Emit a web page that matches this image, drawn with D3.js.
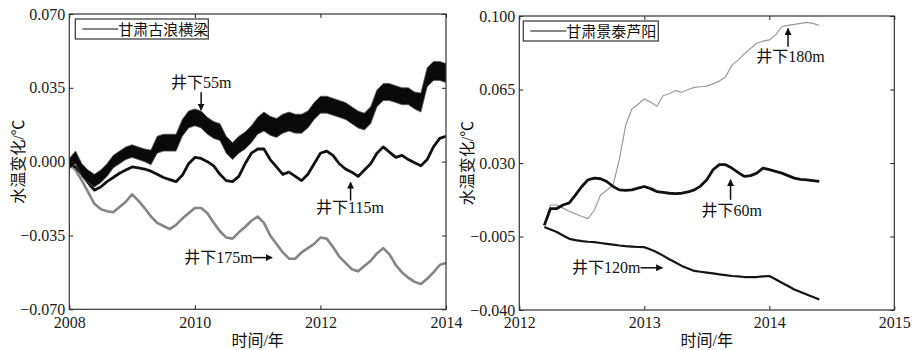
<!DOCTYPE html>
<html><head><meta charset="utf-8">
<script src="https://cdn.jsdelivr.net/npm/d3@7/dist/d3.min.js"></script>
<style>body{margin:0;background:#fff}svg{display:block}</style>
</head><body><svg id="c" width="913" height="350"></svg>
<script>
// ---------- Left panel data (甘肃古浪横梁) ----------
const leftTime = [2008.0,2008.1,2008.2,2008.3,2008.4,2008.5,2008.6,2008.7,2008.8,2008.9,
  2009.0,2009.1,2009.2,2009.3,2009.4,2009.5,2009.6,2009.7,2009.8,2009.9,
  2010.0,2010.1,2010.2,2010.3,2010.4,2010.5,2010.6,2010.7,2010.8,2010.9,
  2011.0,2011.1,2011.2,2011.3,2011.4,2011.5,2011.6,2011.7,2011.8,2011.9,
  2012.0,2012.1,2012.2,2012.3,2012.4,2012.5,2012.6,2012.7,2012.8,2012.9,
  2013.0,2013.1,2013.2,2013.3,2013.4,2013.5,2013.6,2013.7,2013.8,2013.9,2014.0];
const left55 = [-0.001,0.002,-0.004,-0.007,-0.009,-0.007,-0.004,0.000,0.002,0.004,
  0.005,0.004,0.003,0.002,0.008,0.009,0.009,0.009,0.016,0.020,
  0.021,0.020,0.017,0.015,0.014,0.008,0.005,0.008,0.010,0.013,
  0.017,0.019,0.017,0.016,0.018,0.019,0.018,0.018,0.020,0.024,
  0.027,0.027,0.026,0.025,0.024,0.022,0.020,0.019,0.022,0.030,
  0.033,0.033,0.032,0.031,0.031,0.029,0.028,0.040,0.043,0.043,0.042];
const left55Spread = [0.0025,0.003,0.003,0.003,0.003,0.003,0.003,0.003,0.003,0.003,
  0.003,0.003,0.003,0.0035,0.004,0.004,0.004,0.004,0.004,0.004,
  0.004,0.004,0.004,0.004,0.004,0.004,0.004,0.004,0.004,0.004,
  0.004,0.0045,0.0045,0.0045,0.0045,0.0045,0.0045,0.0045,0.004,0.004,
  0.004,0.004,0.004,0.004,0.004,0.004,0.004,0.004,0.004,0.004,
  0.004,0.004,0.004,0.004,0.004,0.004,0.0045,0.0045,0.0045,0.0045,0.0045];
const left115 = [-0.001,-0.0025,-0.006,-0.010,-0.0135,-0.012,-0.0095,-0.0075,-0.0055,-0.004,
  -0.0025,-0.003,-0.0035,-0.0045,-0.006,-0.0075,-0.0085,-0.0095,-0.0065,-0.001,
  0.002,0.0015,0.000,-0.002,-0.006,-0.009,-0.0095,-0.007,-0.001,0.004,
  0.006,0.006,0.001,-0.0025,-0.006,-0.005,-0.007,-0.009,-0.006,-0.001,
  0.004,0.005,0.003,-0.001,-0.0035,-0.005,-0.007,-0.004,-0.001,0.004,
  0.007,0.0045,0.002,0.003,0.001,-0.0005,-0.002,0.001,0.007,0.011,0.012];
const left175 = [-0.001,-0.004,-0.009,-0.0145,-0.020,-0.0225,-0.0235,-0.024,-0.0215,-0.019,
  -0.0155,-0.0185,-0.022,-0.026,-0.029,-0.0305,-0.032,-0.030,-0.027,-0.0245,
  -0.022,-0.022,-0.0245,-0.029,-0.033,-0.036,-0.0365,-0.0335,-0.031,-0.028,
  -0.026,-0.029,-0.035,-0.039,-0.043,-0.046,-0.046,-0.043,-0.041,-0.039,
  -0.036,-0.0365,-0.0405,-0.045,-0.048,-0.051,-0.052,-0.0495,-0.047,-0.0435,
  -0.041,-0.044,-0.049,-0.0525,-0.055,-0.057,-0.058,-0.0555,-0.0525,-0.049,-0.048];
const leftXTicks = [2008, 2010, 2012, 2014];
const leftYTicks = [0.070, 0.035, 0.000, -0.035, -0.070];
const leftYTickLabels = ["0.070", "0.035", "0.000", "\u22120.035", "\u22120.070"];
const leftLegend = "甘肃古浪横梁";
const leftNotes = [
  {text: "井下55m", tx: 2010.1, ty: 0.0377, anchor: "middle", ax1: 2010.1, ay1: 0.0329, ax2: 2010.1, ay2: 0.0245},
  {text: "井下115m", tx: 2012.47, ty: -0.0217, anchor: "middle", ax1: 2012.48, ay1: -0.0184, ax2: 2012.48, ay2: -0.0098},
  {text: "井下175m", tx: 2010.92, ty: -0.0455, anchor: "end", ax1: 2010.92, ay1: -0.0455, ax2: 2011.23, ay2: -0.0455}
];

// ---------- Right panel data (甘肃景泰芦阳) ----------
const rightTime = [2012.20,2012.25,2012.30,2012.35,2012.40,2012.45,2012.50,2012.55,2012.60,2012.65,
  2012.70,2012.75,2012.80,2012.85,2012.90,2012.95,2013.00,2013.05,2013.10,2013.15,
  2013.20,2013.25,2013.30,2013.35,2013.40,2013.45,2013.50,2013.55,2013.60,2013.65,
  2013.70,2013.75,2013.80,2013.85,2013.90,2013.95,2014.00,2014.05,2014.10,2014.15,
  2014.20,2014.25,2014.30,2014.35,2014.40];
const right180 = [0.001,0.010,0.010,0.0085,0.007,0.0058,0.0045,0.0035,0.0075,0.0148,
  0.017,0.0195,0.0316,0.0477,0.0557,0.058,0.0605,0.059,0.057,0.062,
  0.063,0.0645,0.0637,0.065,0.066,0.0663,0.0666,0.0677,0.069,0.071,
  0.0765,0.079,0.082,0.0845,0.087,0.088,0.0886,0.091,0.095,0.0955,
  0.096,0.0965,0.097,0.0965,0.0955];
const right60 = [0.0003,0.0083,0.0083,0.010,0.011,0.0148,0.0188,0.022,0.0228,0.0225,
  0.0212,0.0188,0.0172,0.017,0.0172,0.018,0.0188,0.0178,0.0164,0.016,
  0.0156,0.0154,0.0156,0.0162,0.0172,0.019,0.022,0.0268,0.0292,0.0292,
  0.0276,0.0255,0.0236,0.024,0.0252,0.0276,0.0268,0.026,0.0252,0.024,
  0.0228,0.0222,0.022,0.0216,0.0212];
const right120 = [-0.0005,-0.0017,-0.0029,-0.0045,-0.0061,-0.0067,-0.0072,-0.0075,-0.0077,-0.0081,
  -0.0085,-0.0089,-0.0093,-0.0096,-0.0098,-0.010,-0.0101,-0.0112,-0.0125,-0.0141,
  -0.0158,-0.0174,-0.019,-0.0202,-0.0214,-0.0218,-0.0222,-0.0226,-0.023,-0.0234,
  -0.0238,-0.024,-0.0243,-0.0243,-0.0243,-0.024,-0.0238,-0.0254,-0.027,-0.0286,
  -0.0302,-0.0314,-0.0326,-0.0338,-0.035];
const rightXTicks = [2012, 2013, 2014, 2015];
const rightYTicks = [0.100, 0.065, 0.030, -0.005, -0.040];
const rightYTickLabels = ["0.100", "0.065", "0.030", "\u22120.005", "\u22120.040"];
const rightLegend = "甘肃景泰芦阳";
const rightNotes = [
  {text: "井下180m", tx: 2014.17, ty: 0.0806, anchor: "middle", ax1: 2014.15, ay1: 0.0854, ax2: 2014.15, ay2: 0.094},
  {text: "井下60m", tx: 2013.70, ty: 0.0073, anchor: "middle", ax1: 2013.69, ay1: 0.0125, ax2: 2013.69, ay2: 0.022},
  {text: "井下120m", tx: 2012.97, ty: -0.0199, anchor: "end", ax1: 2012.97, ay1: -0.0199, ax2: 2013.145, ay2: -0.0199}
];

const yTitle = "水温变化/℃";
const xTitle = "时间/年";

const svg = d3.select("#c");
const FONT = "'Liberation Serif','Times New Roman','Noto Sans CJK SC',serif";
const defs = svg.append("defs");
defs.append("marker").attr("id","ah").attr("viewBox","0 0 10 10").attr("refX",9).attr("refY",5)
  .attr("markerWidth",7).attr("markerHeight",7).attr("markerUnits","userSpaceOnUse").attr("orient","auto")
  .append("path").attr("d","M0,0L10,5L0,10z").attr("fill","#111");

function panel(cfg) {
  const {x0, x1, y0, y1} = cfg;
  const x = d3.scaleLinear().domain(cfg.xDomain).range([x0, x1]);
  const y = d3.scaleLinear().domain(cfg.yDomain).range([y1, y0]);
  const g = svg.append("g");
  const tickStyle = sel => {
    sel.select(".domain").remove();
    sel.selectAll(".tick line").attr("stroke", "#222");
    sel.selectAll(".tick text").attr("font-family", FONT).attr("font-size", 16).attr("fill", "#1a1a1a");
  };
  g.append("g").attr("transform", `translate(0,${y1})`)
    .call(d3.axisBottom(x).tickValues(cfg.xTicks).tickFormat(d3.format("d")).tickSizeInner(-4).tickSizeOuter(0).tickPadding(7))
    .call(tickStyle);
  g.append("g").attr("transform", `translate(0,${y0})`)
    .call(d3.axisTop(x).tickValues(cfg.xTicks).tickFormat("").tickSizeInner(-4).tickSizeOuter(0))
    .call(tickStyle);
  g.append("g").attr("transform", `translate(${x0},0)`)
    .call(d3.axisLeft(y).tickValues(cfg.yTicks).tickFormat((d, i) => cfg.yLabels[i]).tickSizeInner(-4).tickSizeOuter(0).tickPadding(4))
    .call(tickStyle);
  g.append("g").attr("transform", `translate(${x1},0)`)
    .call(d3.axisRight(y).tickValues(cfg.yTicks).tickFormat("").tickSizeInner(-4).tickSizeOuter(0))
    .call(tickStyle);

  const clipId = "clip" + cfg.id;
  defs.append("clipPath").attr("id", clipId).append("rect")
    .attr("x", x0).attr("y", y0).attr("width", x1 - x0).attr("height", y1 - y0);
  const plot = g.append("g").attr("clip-path", `url(#${clipId})`);

  cfg.series.forEach(s => {
    const pts = cfg.time.map((t, i) => ({t, v: s.values[i], w: s.spread ? s.spread[i] : 0}));
    if (s.spread) {
      plot.append("path").datum(pts)
        .attr("d", d3.area().x(d => x(d.t)).y0(d => y(d.v - d.w)).y1(d => y(d.v + d.w)))
        .attr("fill", s.color).attr("stroke", "#555").attr("stroke-width", 0.8);
    }
    plot.append("path").datum(pts)
      .attr("d", d3.line().x(d => x(d.t)).y(d => y(d.v)))
      .attr("fill", "none").attr("stroke", s.color).attr("stroke-width", s.width)
      .attr("stroke-linejoin", "round");
  });

  // frame
  g.append("rect").attr("x", x0).attr("y", y0).attr("width", x1 - x0).attr("height", y1 - y0)
    .attr("fill", "none").attr("stroke", "#333").attr("stroke-width", 1.2);

  // legend
  const lg = g.append("g").attr("transform", `translate(${x0 + cfg.legDx},${y0 + cfg.legDy})`);
  lg.append("rect").attr("x", 0).attr("y", 0).attr("width", cfg.legW).attr("height", 20)
    .attr("fill", "#fff").attr("stroke", "#333").attr("stroke-width", 1.2);
  lg.append("line").attr("x1", 7).attr("x2", 43).attr("y1", 10).attr("y2", 10).attr("stroke", "#111").attr("stroke-width", 1.2);
  lg.append("text").attr("x", 43).attr("y", 15.5).text(cfg.legend)
    .attr("font-family", FONT).attr("font-size", 15).attr("fill", "#111");

  // annotations
  cfg.notes.forEach(n => {
    g.append("line").attr("x1", x(n.ax1)).attr("y1", y(n.ay1)).attr("x2", x(n.ax2)).attr("y2", y(n.ay2))
      .attr("stroke", "#111").attr("stroke-width", 1.5).attr("marker-end", "url(#ah)");
    g.append("text").attr("x", x(n.tx)).attr("y", y(n.ty)).attr("dy", "0.35em")
      .attr("text-anchor", n.anchor).text(n.text)
      .attr("font-family", FONT).attr("font-size", 16).attr("fill", "#111");
  });

  // titles
  g.append("text").attr("transform", `translate(${cfg.yTitleX},${(y0 + y1) / 2}) rotate(-90)`)
    .attr("text-anchor", "middle").attr("dy", "0.35em").text(yTitle)
    .attr("font-family", FONT).attr("font-size", 16).attr("fill", "#111");
  g.append("text").attr("x", (x0 + x1) / 2).attr("y", 340).attr("dy", "0.35em")
    .attr("text-anchor", "middle").text(xTitle)
    .attr("font-family", FONT).attr("font-size", 16).attr("fill", "#111");
}

panel({
  id: "L", x0: 69.3, x1: 446, y0: 14, y1: 309.3,
  xDomain: [2008, 2014], yDomain: [-0.070, 0.070],
  xTicks: leftXTicks, yTicks: leftYTicks, yLabels: leftYTickLabels,
  time: leftTime,
  series: [
    {values: left175, color: "#858585", width: 2.6},
    {values: left115, color: "#111", width: 2.8},
    {values: left55, spread: left55Spread, color: "#0a0a0a", width: 1.5}
  ],
  legend: leftLegend, legDx: 6, legDy: 5, legW: 133,
  notes: leftNotes, yTitleX: 18
});
panel({
  id: "R", x0: 519.3, x1: 894.3, y0: 16, y1: 310,
  xDomain: [2012, 2015], yDomain: [-0.040, 0.100],
  xTicks: rightXTicks, yTicks: rightYTicks, yLabels: rightYTickLabels,
  time: rightTime,
  series: [
    {values: right180, color: "#9a9a9a", width: 1.2},
    {values: right120, color: "#151515", width: 2.2},
    {values: right60, color: "#111", width: 2.8}
  ],
  legend: rightLegend, legDx: 4, legDy: 5, legW: 135,
  notes: rightNotes, yTitleX: 467
});
</script></body></html>
